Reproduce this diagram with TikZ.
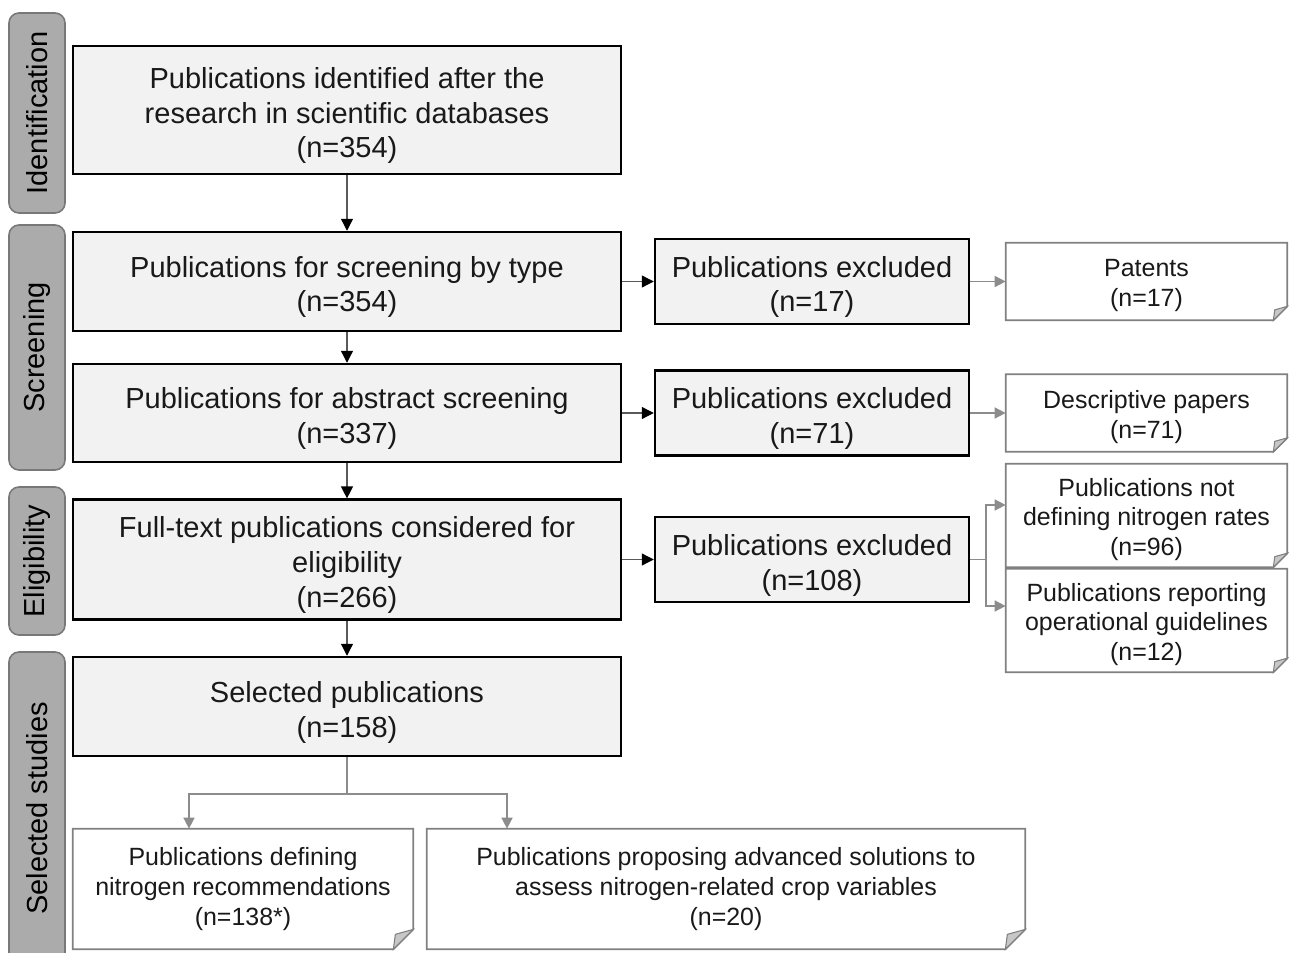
\documentclass[tikz,border=0pt]{standalone}
\usepackage{fontspec}
\setmainfont{Liberation Sans}
\usetikzlibrary{positioning, arrows.meta, calc}

\begin{document}
\begin{tikzpicture}[
    nudge/.style={execute at begin node={\rule{0pt}{\dimexpr0.76em+#1\relax}}},
    phase/.style={draw=black!53, fill=black!33, rounded corners=0.2cm, line width=0.9pt, rotate=90,
        minimum height=1.12cm, font=\fontsize{16.5}{19.9}\selectfont},
    mainbox/.style={draw=black, fill=black!5, line width=1.4pt, minimum width=10.96cm, inner xsep=0pt,
        text width=10.4cm, align=flush center, font=\fontsize{16.5}{19.9}\selectfont, text=black!90, nudge=0.2cm},
    exclbox/.style={mainbox, minimum width=6.28cm, text width=6.1cm, minimum height=1.7cm, nudge=0.14cm},
    notebox/.style={inner xsep=0pt, align=flush center, font=\fontsize{14.2}{17}\selectfont, text=black!90},
    flow/.style={draw=black!65, line width=0.7pt, -{Triangle[length=0.24cm, width=0.24cm, color=black]}},
    side/.style={draw=black!45, line width=0.9pt, -{Triangle[length=0.22cm, width=0.22cm, color=black!45]}},
]

    \clip (0,0) rectangle (25.8,-19.06);

    % PHASES
    \node[phase, minimum width=4cm]    (idn) at (0.74,-2.26)  {Identification};
    \node[phase, minimum width=4.9cm]  (scr) at (0.74,-6.95)  {Screening};
    \node[phase, minimum width=2.96cm] (eli) at (0.74,-11.22) {Eligibility};
    \node[phase, minimum width=6.26cm] (sst) at (0.74,-16.17) {Selected studies};

    % MAIN FLOW
    \node[mainbox, minimum height=2.56cm] (found) at (6.94,-2.2)  {Publications identified after the\\research in scientific databases\\(n=354)};
    \node[mainbox, minimum height=1.98cm] (typed) at (6.94,-5.63) {Publications for screening by type\\(n=354)};
    \node[mainbox, minimum height=1.96cm] (abstr) at (6.94,-8.26) {Publications for abstract screening\\(n=337)};
    \node[mainbox, minimum height=2.3cm]  (full)  at (6.94,-11.19) {Full-text publications considered for\\eligibility\\(n=266)};
    \node[mainbox, minimum height=1.98cm] (sel)   at (6.94,-14.13) {Selected publications\\(n=158)};

    % EXCLUDED
    \node[exclbox] (exA) at (16.24,-5.63)  {Publications excluded\\(n=17)};
    \node[exclbox] (exB) at (16.24,-8.26)  {Publications excluded\\(n=71)};
    \node[exclbox] (exC) at (16.24,-11.19) {Publications excluded\\(n=108)};

    % NOTES
    \node[notebox, text width=5.4cm, nudge=0.14cm, minimum width=5.62cm, minimum height=1.54cm] (pat)   at (22.93,-5.63)  {Patents\\(n=17)};
    \node[notebox, text width=5.4cm, nudge=0.14cm, minimum width=5.62cm, minimum height=1.54cm] (desc)  at (22.93,-8.26)  {Descriptive papers\\(n=71)};
    \node[notebox, text width=5.4cm, nudge=0.14cm, minimum width=5.62cm, minimum height=2.02cm] (rate)  at (22.93,-10.31) {Publications not\\defining nitrogen rates\\(n=96)};
    \node[notebox, text width=5.4cm, nudge=0.14cm, minimum width=5.62cm, minimum height=1.86cm] (guide) at (22.93,-12.41) {Publications reporting\\operational guidelines\\(n=12)};
    \node[notebox, minimum width=6.8cm,  minimum height=2.4cm]  (rec)   at (4.86,-17.78)  {Publications defining\\nitrogen recommendations\\(n=138*)};
    \node[notebox, minimum width=11.96cm, minimum height=2.4cm] (adv)   at (14.52,-17.78) {Publications proposing advanced solutions to\\assess nitrogen-related crop variables\\(n=20)};

    % folded corners
    \foreach \n/\f in {pat/0.28, desc/0.28, rate/0.28, guide/0.28, rec/0.4, adv/0.4} {
        \draw[draw=black!50, line width=1pt] (\n.north west) -- (\n.north east) -- ($(\n.south east)+(0,\f)$)
            -- ($(\n.south east)+(-\f,0)$) -- (\n.south west) -- cycle;
        \filldraw[draw=black!50, fill=black!22, line width=0.6pt] ($(\n.south east)+(0,\f)$)
            -- ($(\n.south east)+(-0.9*\f,0.75*\f)$) -- ($(\n.south east)+(-\f,0)$) -- cycle;
    }

    % CONNECTORS
    \foreach \a/\b in {found/typed, typed/abstr, abstr/full, full/sel, typed/exA, abstr/exB, full/exC}
        \draw[flow] (\a) -- (\b);
    \draw[side] (exA) -- (pat);
    \draw[side] (exB) -- (desc);

    \coordinate (split) at ($(exC.east)+(0.32,0)$);
    \draw[side] (exC.east) -- (split) |- ($(rate.west)+(0,0.21)$);
    \draw[side] (split) |- ($(guide.west)+(0,0.29)$);

    \draw[side, -] (sel.south) -- ++(0,-0.74) coordinate (fork);
    \draw[side] (fork) -| ([xshift=-1.08cm]rec.north);
    \draw[side] (fork) -| ([xshift=-4.38cm]adv.north);

\end{tikzpicture}
\end{document}
